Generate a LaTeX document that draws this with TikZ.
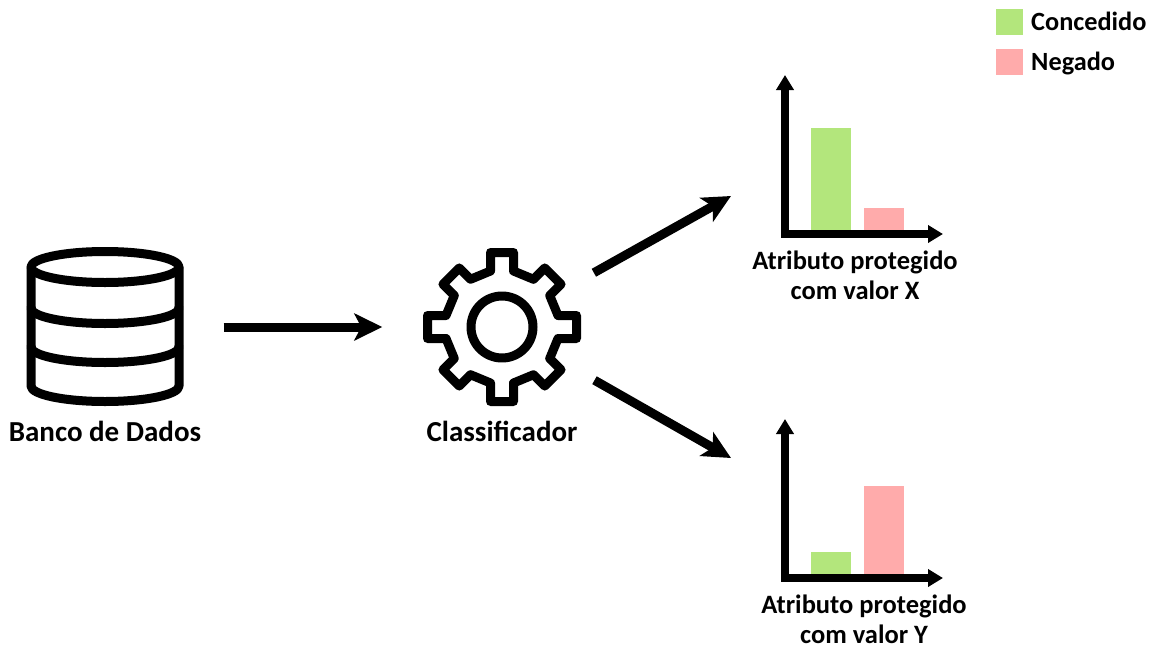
\documentclass[tikz,border=0pt]{standalone}
\usepackage{fontspec}
\setmainfont{Carlito}
\usetikzlibrary{arrows.meta}

\definecolor{concedido}{HTML}{B3E67C}
\definecolor{negado}{HTML}{FFABAB}

\tikzset{
  icone/.style={line width=9pt,line cap=round,line join=round},
  seta/.style={line width=9pt,-{Stealth[length=28pt,width=27pt,inset=7pt]}},
  eixo/.style={line width=8pt,-{Triangle[length=15pt,width=17pt]}},
  rotulo/.style={font=\bfseries\fontsize{29}{30}\selectfont,inner sep=0pt,align=center},
  rotulograf/.style={font=\bfseries\fontsize{26.5}{30}\selectfont,inner sep=0pt,align=center},
  legenda/.style={font=\bfseries\fontsize{26.3}{30}\selectfont,inner sep=0pt,anchor=base west}
}

\begin{document}
\begin{tikzpicture}[x=1pt,y=-1pt]
\useasboundingbox (0,0) rectangle (1154,648);

% banco de dados
\node[inner sep=0pt,minimum size=159pt] (bd) at (105,327) {};
\draw[icone] (105,267) ellipse (74pt and 15.5pt);
\draw[icone] (31,267) -- (31,386) arc (180:360:74pt and 15.5pt) -- (179,267);
\draw[icone] (31,308) arc (180:360:74pt and 15.5pt);
\draw[icone] (31,347) arc (180:360:74pt and 15.5pt);
\node[rotulo] (bdtexto) at (105,431) {Banco de Dados};

% classificador
\node[circle,inner sep=0pt,minimum size=159pt] (gear) at (502,327) {};
\foreach \a/\r in {0/74.5,45/72,90/74.5,135/72,180/74.5,225/72,270/74.5,315/72}
  \draw[icone,shift={(gear.center)},rotate=\a] (-11.5,-56) -- (-11.5,-\r) -- (11.5,-\r) -- (11.5,-56) -- ([rotate=-45]-11.5,-56);
\draw[icone] (gear.center) circle (31pt);
\node[rotulo] (geartexto) at (502,431) {Classificador};

% setas
\coordinate (entradaX) at (731,196);
\coordinate (entradaY) at (731,458);
\draw[seta,shorten <=39pt,shorten >=40pt] (bd) -- (gear);
\draw[seta,shorten <=27pt] (gear.31) -- (entradaX);
\draw[seta,shorten <=27pt] (gear.-30) -- (entradaY);

% grafico X
\fill[concedido] (811,128) rectangle (851,231);
\fill[negado] (864,208) rectangle (904,231);
\draw[eixo] (785,234) -- (785,75);
\draw[eixo] (781,234) -- (943,234);
\node[rotulograf] (textoX) at (855,275) {Atributo protegido\\com valor X};

% grafico Y
\fill[concedido] (811,552) rectangle (851,575);
\fill[negado] (864,486) rectangle (904,575);
\draw[eixo] (785,578) -- (785,419);
\draw[eixo] (781,578) -- (943,578);
\node[rotulograf] (textoY) at (864,619) {Atributo protegido\\com valor Y};

% legenda
\fill[concedido] (996,9) rectangle (1023,35);
\fill[negado] (996,49) rectangle (1023,75);
\node[legenda] (concedido) at (1031,30) {Concedido};
\node[legenda] (negado) at (1031,70) {Negado};

\end{tikzpicture}
\end{document}
